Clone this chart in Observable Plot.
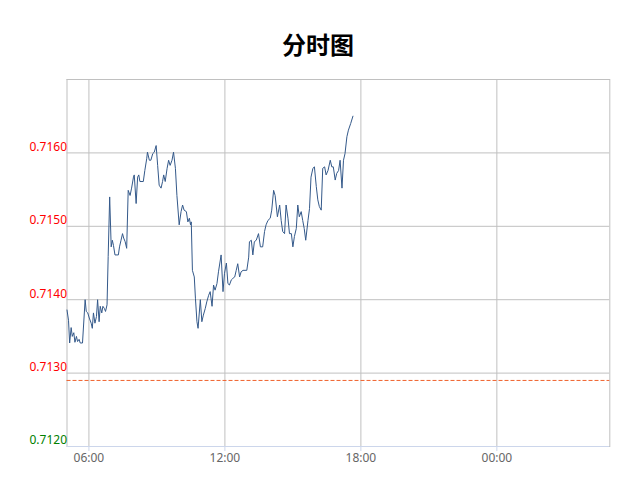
<!DOCTYPE html>
<html>
<head>
<meta charset="utf-8">
<script src="https://cdn.jsdelivr.net/npm/d3@7"></script>
<script src="https://cdn.jsdelivr.net/npm/@observablehq/plot@0.6"></script>
<style>
  html, body { margin: 0; padding: 0; background: #fff; }
  #title { box-sizing: border-box; width: 618px; height: 60px; padding-top: 26px; padding-left: 18px; line-height: 24px;
    text-align: center; font: bold 24px "Noto Sans CJK SC", sans-serif; color: #000; }
</style>
</head>
<body>
<div id="title">分时图</div>
<div id="chart"></div>
<script>
const times = ["05:02","05:06","05:09","05:13","05:16","05:20","05:23","05:27","05:30","05:34","05:37","05:43","05:50","05:53","05:57",
"06:01","06:06","06:09","06:12","06:16","06:20","06:23","06:27","06:30","06:34","06:37","06:41","06:44","06:48","06:51","06:55","06:59",
"07:02","07:05","07:09","07:18","07:21","07:25","07:29","07:32","07:36","07:40","07:44","07:49","07:53","07:58",
"08:00","08:05","08:09","08:12","08:15","08:24","08:28","08:33","08:35","08:40","08:44","08:49","08:53","08:58",
"09:02","09:06","09:11","09:15","09:18","09:22","09:27","09:31","09:35","09:40","09:44","09:49","09:53","09:59",
"10:04","10:08","10:12","10:18","10:22","10:26","10:29","10:31","10:34","10:39","10:42","10:46","10:49","10:55","10:59",
"11:03","11:08","11:12","11:17","11:21","11:26","11:30","11:34","11:39","11:43","11:50","11:55","11:59",
"12:04","12:08","12:12","12:17","12:21","12:26","12:30","12:34","12:39","12:43","12:48","12:58",
"13:03","13:05","13:10","13:14","13:18","13:23","13:29","13:34","13:40","13:45","13:49","13:54",
"14:00","14:04","14:09","14:13","14:19","14:25","14:29","14:33","14:38","14:42","14:47","14:51","14:56",
"15:00","15:04","15:09","15:13","15:17","15:22","15:26","15:30","15:34","15:40","15:44","15:48","15:53","15:57",
"16:02","16:06","16:10","16:15","16:19","16:24","16:28","16:33","16:39","16:43","16:47","16:52","16:56",
"17:01","17:05","17:10","17:14","17:18","17:23","17:27","17:33","17:39"];
const prices = [0.71386,0.71372,0.71341,0.71362,0.71350,0.71355,0.71342,0.71350,0.71343,0.71346,0.71341,0.71341,0.71400,0.71384,0.71382,
0.71375,0.71368,0.71361,0.71382,0.71368,0.71377,0.71400,0.71370,0.71391,0.71382,0.71391,0.71388,0.71384,0.71393,0.71459,0.71540,0.71472,
0.71481,0.71474,0.71461,0.71461,0.71472,0.71481,0.71490,0.71484,0.71479,0.71470,0.71549,0.71542,0.71552,0.71567,
0.71570,0.71531,0.71567,0.71570,0.71561,0.71561,0.71576,0.71592,0.71601,0.71590,0.71590,0.71599,0.71601,0.71610,
0.71583,0.71556,0.71552,0.71561,0.71570,0.71561,0.71579,0.71590,0.71583,0.71590,0.71601,0.71579,0.71542,0.71502,
0.71520,0.71529,0.71522,0.71520,0.71506,0.71511,0.71502,0.71506,0.71440,0.71431,0.71402,0.71370,0.71361,0.71400,0.71370,
0.71379,0.71388,0.71397,0.71406,0.71411,0.71391,0.71420,0.71413,0.71422,0.71438,0.71461,0.71411,0.71436,
0.71450,0.71422,0.71420,0.71427,0.71429,0.71431,0.71440,0.71449,0.71431,0.71438,0.71440,0.71440,
0.71458,0.71479,0.71481,0.71461,0.71479,0.71481,0.71490,0.71472,0.71472,0.71493,0.71502,0.71508,
0.71511,0.71522,0.71549,0.71542,0.71513,0.71529,0.71508,0.71493,0.71490,0.71529,0.71511,0.71490,0.71490,
0.71472,0.71486,0.71497,0.71529,0.71513,0.71520,0.71508,0.71497,0.71481,0.71508,0.71524,0.71567,0.71579,0.71581,
0.71554,0.71536,0.71527,0.71522,0.71579,0.71581,0.71570,0.71576,0.71590,0.71581,0.71581,0.71563,0.71572,
0.71576,0.71590,0.71552,0.71590,0.71599,0.71622,0.71631,0.71640,0.71650];
const prevClose = 0.71290;
const xTickLabels = ["06:00","12:00","18:00","00:00"];
const yTicksAbove = [0.7130, 0.7140, 0.7150, 0.7160];
const yTicksBelow = [0.7120];
const yDomain = [0.7120, 0.7170];
const xStart = "05:02", xEnd = "04:59";

function toDate(s, nextDay) {
  const [h, m] = s.split(":").map(Number);
  return new Date(Date.UTC(2024, 0, nextDay ? 2 : 1, h, m));
}
const data = times.map((t, i) => ({t: toDate(t, false), p: prices[i]}));
const xTicks = xTickLabels.map(s => toDate(s, s === "00:00"));
const fmt = d3.utcFormat("%H:%M");

const chart = Plot.plot({
  width: 618, height: 425,
  marginTop: 19, marginBottom: 39, marginLeft: 66.5, marginRight: 8.7,
  style: {fontFamily: "'Noto Sans', sans-serif", fontSize: "12px", background: "#fff"},
  x: {type: "utc", domain: [toDate(xStart, false), toDate(xEnd, true)]},
  y: {domain: yDomain},
  marks: [
    Plot.gridX(xTicks, {stroke: "#c0c0c0", strokeOpacity: 1}),
    Plot.gridY([...yTicksAbove, 0.7170], {stroke: "#c0c0c0", strokeOpacity: 1}),
    Plot.frame({stroke: "#c0c0c0"}),
    Plot.ruleY([prevClose], {stroke: "#f0622d", strokeDasharray: "4,2", strokeWidth: 1}),
    Plot.line(data, {x: "t", y: "p", stroke: "#34598a", strokeWidth: 1}),
    Plot.ruleY([yDomain[0]], {stroke: "#ccd6eb"}),
    Plot.axisX(xTicks, {tickFormat: fmt, tickSize: 5, tickPadding: 2, stroke: "#ccd6eb", fill: "#666", label: null}),
    Plot.axisY(yTicksAbove, {tickSize: 0, tickPadding: 0, dy: -6, fill: "#ff0000", tickFormat: d => d.toFixed(4), label: null}),
    Plot.axisY(yTicksBelow, {tickSize: 0, tickPadding: 0, dy: -6, fill: "#008000", tickFormat: d => d.toFixed(4), label: null})
  ]
});
document.getElementById("chart").appendChild(chart);
</script>
</body>
</html>
